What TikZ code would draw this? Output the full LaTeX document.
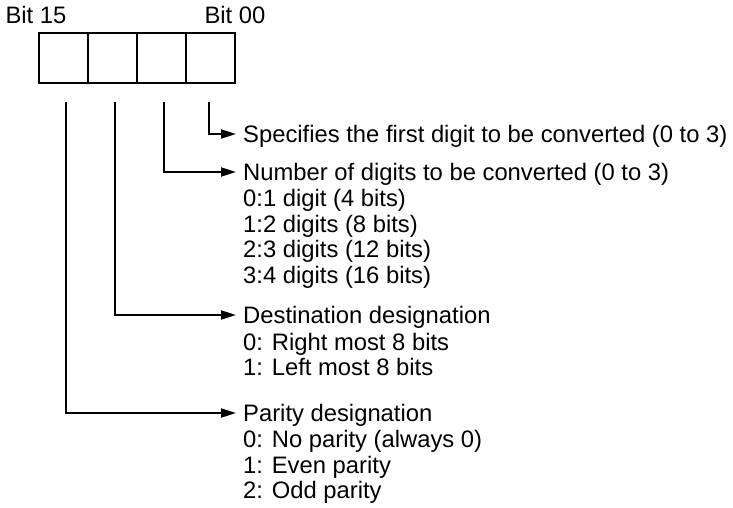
\documentclass[tikz,border=0pt]{standalone}
\usepackage{fontspec}
\setmainfont{Liberation Sans}
\usetikzlibrary{arrows.meta,positioning,calc}

\begin{document}
\begin{tikzpicture}[x=1pt,y=-1pt,
  cell/.style={draw,line width=2pt,minimum width=49pt,minimum height=50pt,
    inner sep=0pt,outer sep=0pt},
  head/.style={font=\fontsize{23.8}{25.5}\selectfont,inner ysep=0pt,
    inner xsep=7pt,text height=17pt,text depth=0pt,anchor=west},
  items/.style={font=\fontsize{23.8}{25.5}\selectfont,inner ysep=0pt,
    inner xsep=7pt,align=left,anchor=north west},
  conn/.style={line width=2pt,-{Triangle[length=15pt,width=9pt]}}]
\useasboundingbox (0,0) rectangle (733,508);
% register word, bit 15 on the left
\node[cell] (c3) at (63.5,58) {};
\node[cell,right=0pt of c3] (c2) {};
\node[cell,right=0pt of c2] (c1) {};
\node[cell,right=0pt of c1] (c0) {};
\node[head,anchor=center] (b15) at (36,15) {Bit 15};
\node[head,anchor=center] (b00) at (235,15) {Bit 00};
% descriptions
\node[head] (spec) at (236,134) {Specifies the first digit to be converted (0 to 3)};
\node[head] (num) at (236,172) {Number of digits to be converted (0 to 3)};
\node[items] (numl) at ($(num.base west)+(0,8.8)$)
  {0:1 digit (4 bits)\\1:2 digits (8 bits)\\2:3 digits (12 bits)\\3:4 digits (16 bits)};
\node[head] (dest) at (236,315) {Destination designation};
\node[items] (destl) at ($(dest.base west)+(0,9.1)$)
  {0: Right most 8 bits\\1: Left most 8 bits};
\node[head] (par) at (236,413) {Parity designation};
\node[items] (parl) at ($(par.base west)+(0,8.8)$)
  {0: No parity (always 0)\\1: Even parity\\2: Odd parity};
% connectors
\foreach \c/\dx/\t in {c0/-1.5/spec,c1/2.5/num,c2/2.5/dest,c3/2.5/par}{
  \draw[conn]([xshift=\dx pt,yshift=-19pt]\c.south)|-(\t);}
\end{tikzpicture}
\end{document}
